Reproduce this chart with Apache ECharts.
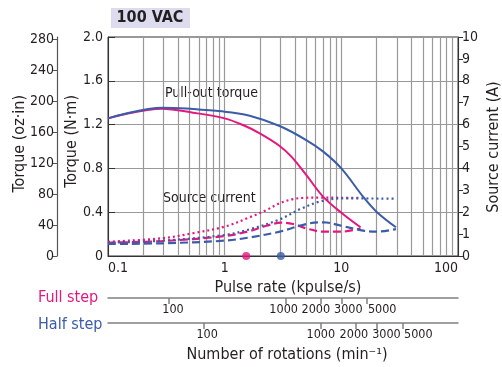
<!DOCTYPE html>
<html>
<head>
<meta charset="utf-8">
<script src="https://cdn.jsdelivr.net/npm/echarts@6/dist/echarts.min.js"></script>
<style>
  html, body { margin: 0; padding: 0; background: #fff; }
  #chart { width: 502px; height: 367px; }
</style>
</head>
<body>
<div id="chart"></div>
<script>
const FONT = "'DejaVu Sans Condensed', 'Liberation Sans Narrow', sans-serif";
const TEXT = '#231f20';
const PINK = '#e5177e';
const BLUE = '#3b5ca8';

// pulse rate (kpulse/s) grid + labels
const pulseMajor = [0.1, 1, 10, 100];
const pulseGrid = [0.1, 0.2, 0.3, 0.4, 0.5, 0.6, 0.7, 0.8, 0.9,
                   1, 2, 3, 4, 5, 6, 7, 8, 9,
                   10, 20, 30, 40, 50, 60, 70, 80, 90, 100];
const ozTicks = [0, 40, 80, 120, 160, 200, 240, 280];
const rpmTicks = [100, 1000, 2000, 3000, 5000];

// pull-out torque (N·m)
const fullTorqueX = [0.1, 0.29, 0.535, 1, 1.435, 2.0, 2.96, 3.73, 5.0, 7.0, 10, 14.6];
const fullTorqueY = [1.257, 1.345, 1.309, 1.257, 1.196, 1.12, 1.005, 0.907, 0.74, 0.54, 0.395, 0.262];
const halfTorqueX = [0.1, 0.295, 1, 1.64, 2.96, 5.0, 7.0, 10, 15.4, 20, 29.4];
const halfTorqueY = [1.257, 1.354, 1.318, 1.281, 1.187, 1.059, 0.953, 0.80, 0.54, 0.405, 0.262];

// source current (A), dotted
const fullCurDotX = [0.1, 0.29, 0.535, 1, 1.64, 2.28, 2.96, 3.86, 5.0, 7.0, 10, 14.6];
const fullCurDotY = [0.65, 0.81, 1.04, 1.34, 1.77, 2.10, 2.41, 2.60, 2.66, 2.67, 2.66, 2.66];
const halfCurDotX = [0.1, 0.29, 1, 1.64, 2.96, 4.4, 6.5, 10, 29.4];
const halfCurDotY = [0.61, 0.70, 0.96, 1.22, 1.67, 2.13, 2.48, 2.63, 2.62];

// source current (A), dashed
const fullCurDashX = [0.1, 0.29, 1, 1.64, 2.28, 3.05, 3.86, 5.0, 7.0, 10, 14.6];
const fullCurDashY = [0.61, 0.68, 0.91, 1.14, 1.38, 1.52, 1.46, 1.26, 1.11, 1.11, 1.26];
const halfCurDashX = [0.1, 0.29, 1, 1.64, 2.96, 5.0, 7.0, 10, 15.4, 20, 29.4];
const halfCurDashY = [0.55, 0.58, 0.70, 0.85, 1.11, 1.46, 1.54, 1.38, 1.16, 1.11, 1.23];

// marker dots on the pulse axis
const fullDot = 1.53;
const halfDot = 3.03;

// label nudges (px) so the crowded rpm labels don't collide
const fullNudge = [4, -2, -5, 7, 15];
const halfNudge = [3, 0, -2, 10, 16];

const lg = Math.log10;
const pairs = (xs, ys) => xs.map((x, i) => [lg(x), ys[i]]);
const numLabel = v => String(Math.round(Math.pow(10, v) * 10) / 10);

const baseLabel = { color: TEXT, fontFamily: FONT, fontSize: 14 };

function rpmAxis(minRpm, maxRpm, offset, nudge) {
  const rich = {};
  nudge.forEach((s, i) => {
    rich['n' + i] = { fontFamily: FONT, fontSize: 12.5, color: TEXT,
      padding: s >= 0 ? [0, 0, 0, 2 * s] : [0, -2 * s, 0, 0] };
  });
  return {
    type: 'value', position: 'bottom', offset,
    min: lg(minRpm), max: lg(maxRpm),
    axisLine: { show: true, onZero: false, lineStyle: { color: '#808080', width: 1.5 } },
    axisTick: { show: true, length: 6, customValues: rpmTicks.map(lg),
      lineStyle: { color: '#808080', width: 1.5 } },
    axisLabel: { ...baseLabel, fontSize: 12.5, margin: 5, customValues: rpmTicks.map(lg), rich,
      formatter: v => {
        const r = Math.round(Math.pow(10, v));
        const i = rpmTicks.indexOf(r);
        return '{n' + i + '|' + r + '}';
      } },
    splitLine: { show: false }
  };
}

function line(xs, ys, color, yIdx, type, z) {
  return {
    type: 'line', xAxisIndex: 0, yAxisIndex: yIdx, data: pairs(xs, ys),
    smooth: 0.35, showSymbol: false, z,
    lineStyle: { color, width: type === 'solid' ? 2 : 2.2, type:
      type === 'dotted' ? [2, 3] : type === 'dashed' ? [8, 4] : 'solid' }
  };
}

const chart = echarts.init(document.getElementById('chart'));
chart.setOption({
  animation: false,
  grid: { left: 108, right: 44, top: 37, bottom: 111, show: true,
    borderColor: '#333', borderWidth: 1 },
  xAxis: [
    {
      type: 'value', position: 'bottom', min: -1, max: 2,
      axisLine: { show: true, onZero: false, lineStyle: { color: '#333', width: 1 } },
      axisTick: { show: false, customValues: pulseGrid.map(lg) },
      axisLabel: { ...baseLabel, margin: 5, customValues: pulseMajor.map(lg),
        formatter: numLabel, alignMinLabel: 'left', alignMaxLabel: 'right' },
      splitLine: { show: true, lineStyle: { color: '#999', width: 1.2 } }
    },
    rpmAxis(30, 30000, 42, fullNudge),
    rpmAxis(15, 15000, 67, halfNudge)
  ],
  yAxis: [
    {
      type: 'value', position: 'left', min: 0, max: 2, interval: 0.4,
      axisLine: { show: true, onZero: false, lineStyle: { color: '#333' } },
      axisTick: { show: true, inside: true, length: 7, lineStyle: { color: '#333' } },
      axisLabel: { ...baseLabel, margin: 5, formatter: v => v === 0 ? '0' : v.toFixed(1) },
      splitLine: { show: true, lineStyle: { color: '#999', width: 1.2 } }
    },
    {
      type: 'value', position: 'left', offset: 51, min: 0, max: 283.2,
      axisLine: { show: true, onZero: false, lineStyle: { color: '#555', width: 1.2 } },
      axisTick: { show: true, length: 4, customValues: ozTicks, lineStyle: { color: '#555' } },
      axisLabel: { ...baseLabel, margin: 3, customValues: ozTicks },
      splitLine: { show: false }
    },
    {
      type: 'value', position: 'right', min: 0, max: 10, interval: 1,
      axisLine: { show: true, onZero: false, lineStyle: { color: '#333' } },
      axisTick: { show: true, length: 5, lineStyle: { color: '#333' } },
      axisLabel: { ...baseLabel, margin: 4 },
      splitLine: { show: false }
    }
  ],
  series: [
    line(fullCurDashX, fullCurDashY, PINK, 2, 'dashed', 2),
    line(halfCurDashX, halfCurDashY, BLUE, 2, 'dashed', 2),
    line(fullCurDotX, fullCurDotY, PINK, 2, 'dotted', 2),
    line(halfCurDotX, halfCurDotY, BLUE, 2, 'dotted', 2),
    line(fullTorqueX, fullTorqueY, PINK, 0, 'solid', 3),
    line(halfTorqueX, halfTorqueY, BLUE, 0, 'solid', 3),
    {
      type: 'scatter', xAxisIndex: 0, yAxisIndex: 0, clip: false, z: 4,
      symbolSize: 8,
      data: [
        { value: [lg(fullDot), 0], itemStyle: { color: PINK } },
        { value: [lg(halfDot), 0], itemStyle: { color: BLUE } }
      ]
    }
  ],
  graphic: [
    { type: 'rect', shape: { x: 111, y: 8, width: 79, height: 20 }, style: { fill: '#dcdcee' } },
    { type: 'text', x: 150, y: 18, style: { text: '100 VAC', font: 'bold 16px ' + FONT,
      fill: TEXT, align: 'center', verticalAlign: 'middle' } },
    { type: 'text', x: 165, y: 93, style: { text: 'Pull-out torque', font: '14px ' + FONT,
      fill: TEXT, verticalAlign: 'middle' } },
    { type: 'text', x: 163, y: 198, style: { text: 'Source current', font: '14px ' + FONT,
      fill: TEXT, verticalAlign: 'middle' } },
    { type: 'text', x: 20, y: 95, rotation: Math.PI / 2, style: { text: 'Torque (oz·in)',
      font: '16px ' + FONT, fill: TEXT, align: 'right', verticalAlign: 'middle' } },
    { type: 'text', x: 72, y: 95, rotation: Math.PI / 2, style: { text: 'Torque (N·m)',
      font: '16px ' + FONT, fill: TEXT, align: 'right', verticalAlign: 'middle' } },
    { type: 'text', x: 494, y: 147, rotation: Math.PI / 2, style: { text: 'Source current (A)',
      font: '16px ' + FONT, fill: TEXT, align: 'center', verticalAlign: 'middle' } },
    { type: 'text', x: 288, y: 288, style: { text: 'Pulse rate (kpulse/s)',
      font: '16px ' + FONT, fill: TEXT, align: 'center', verticalAlign: 'middle' } },
    { type: 'text', x: 287, y: 355, style: { text: 'Number of rotations (min⁻¹)',
      font: '16px ' + FONT, fill: TEXT, align: 'center', verticalAlign: 'middle' } },
    { type: 'text', x: 38, y: 298, style: { text: 'Full step',
      font: '16px ' + FONT, fill: PINK, verticalAlign: 'middle' } },
    { type: 'text', x: 38, y: 325, style: { text: 'Half step',
      font: '16px ' + FONT, fill: BLUE, verticalAlign: 'middle' } }
  ]
});
</script>
</body>
</html>
